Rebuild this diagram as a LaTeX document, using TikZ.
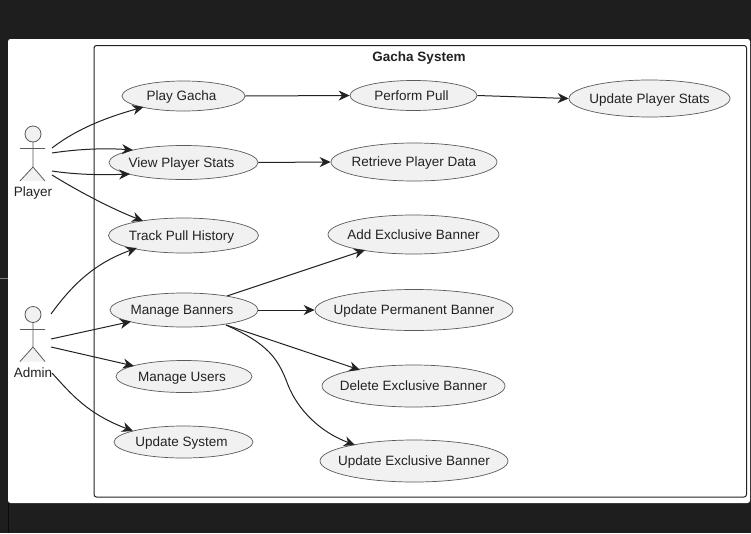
\documentclass[tikz,border=0pt]{standalone}
\usepackage{fontspec}
\setmainfont{Liberation Sans}
\usetikzlibrary{shapes.geometric,arrows.meta}
\definecolor{pagebg}{HTML}{1E1E1E}
\definecolor{usefill}{HTML}{F1F1F1}
\definecolor{useline}{HTML}{5A5A5A}
\definecolor{inkc}{HTML}{222222}
\newcommand{\lft}[1]{#1\kern4pt}
\tikzset{
  usecase/.style={ellipse,draw=useline,fill=usefill,line width=0.7pt,inner xsep=-25pt,inner ysep=-5pt,text height=12pt,text depth=3pt,text=inkc,font=\fontsize{13.5}{16}\selectfont},
  lbl/.style={text=inkc,inner sep=0pt,text height=12pt,text depth=3pt,font=\fontsize{13.5}{16}\selectfont},
  conn/.style={draw=inkc,line width=1pt,-{Stealth[length=11pt,width=10pt,inset=3.5pt]}},
  actorline/.style={draw=useline,line width=0.8pt,fill=usefill},
}
\begin{document}
\begin{tikzpicture}[x=1pt,y=-1pt]
\useasboundingbox (0,0) rectangle (751,533);
\fill[pagebg] (0,0) rectangle (751,533);
\draw[gray,line width=1pt] (0,278.5) -- (8,278.5);
\draw[black!60!pagebg,line width=0.6pt] (8.5,503) -- (8.5,533);
\fill[white,rounded corners=2.5pt] (8,39) rectangle (750,503);
\draw[inkc,line width=1pt,rounded corners=2.5pt] (94,45.5) rectangle (746.5,497);
\node[lbl,font=\fontsize{13.5}{16}\selectfont\bfseries] (title) at (419,56.5) {Gacha System};

% use cases
\node[usecase,minimum width=123pt,minimum height=30pt] (pg) at (183.5,96) {\lft{Play Gacha}};
\node[usecase,minimum width=127pt,minimum height=30pt] (pp) at (413.5,95.5) {\lft{Perform Pull}};
\node[usecase,minimum width=161pt,minimum height=37pt] (ups) at (649.5,98.5) {Update Player Stats};
\node[usecase,minimum width=149pt,minimum height=34pt] (vps) at (183.5,162.5) {\lft{View Player Stats}};
\node[usecase,minimum width=166pt,minimum height=38pt] (rpd) at (414,162) {Retrieve Player Data};
\node[usecase,minimum width=150pt,minimum height=35pt] (tph) at (183.5,235.5) {\lft{Track Pull History}};
\node[usecase,minimum width=171pt,minimum height=39pt] (aeb) at (413.5,234.5) {Add Exclusive Banner};
\node[usecase,minimum width=148pt,minimum height=34pt] (mb) at (184,310) {\lft{Manage Banners}};
\node[usecase,minimum width=198pt,minimum height=41pt] (upb) at (414,310) {Update Permanent Banner};
\node[usecase,minimum width=136pt,minimum height=32pt] (mu) at (184,376.5) {\lft{Manage Users}};
\node[usecase,minimum width=183pt,minimum height=42pt] (deb) at (413.5,386) {Delete Exclusive Banner};
\node[usecase,minimum width=139pt,minimum height=32pt] (us) at (183.5,442) {\lft{Update System}};
\node[usecase,minimum width=188pt,minimum height=42pt] (ueb) at (414,461) {Update Exclusive Banner};

% actors
\draw[actorline] (33,134) circle (8pt);
\draw[actorline] (33,142) -- (33,167) (20,148.5) -- (45,148.5) (20,181) -- (33,167) -- (45,181);
\node[lbl] (player) at (33,192) {Player};
\draw[actorline] (33,314.5) circle (8pt);
\draw[actorline] (33,322.5) -- (33,347) (20,329.5) -- (45,329.5) (20,361.5) -- (33,347) -- (45,361.5);
\node[lbl] (admin) at (33,372.5) {Admin};

\coordinate (p1) at (52,148);
\coordinate (p2) at (52,153);
\coordinate (p3) at (52,171);
\coordinate (p4) at (52,175);
\coordinate (a1) at (51,314);
\coordinate (a2) at (51,339);
\coordinate (a3) at (51,347);
\coordinate (a4) at (52,373);

% connectors
\draw[conn] (p1) .. controls (78,128) and (108,117) .. ([xshift=-40pt,yshift=-11pt]pg.center);
\draw[conn] (p2) .. controls (78,149) and (105,148) .. ([xshift=-50.5pt,yshift=12.5pt]vps.center);
\draw[conn] (p3) .. controls (78,175) and (105,175) .. ([xshift=-53.5pt,yshift=-11.5pt]vps.center);
\draw[conn] (p4) .. controls (78,191) and (110,208) .. ([xshift=-40.5pt,yshift=14.5pt]tph.center);
\draw[conn] (a1) .. controls (70,288) and (92,264) .. ([xshift=-46.5pt,yshift=-12.5pt]tph.center);
\draw[conn] (a2) -- ([xshift=-53pt,yshift=-11.5pt]mb.center);
\draw[conn] (a3) -- ([xshift=-50pt,yshift=10.5pt]mu.center);
\draw[conn] (a4) .. controls (72,395) and (88,414) .. ([xshift=-50.5pt,yshift=11pt]us.center);
\draw[conn] (pg.east) -- (pp.west);
\draw[conn] (pp.east) -- (ups.west);
\draw[conn] (vps.east) -- (rpd.west);
\draw[conn] ([xshift=43pt,yshift=14pt]mb.center) -- ([xshift=-48.5pt,yshift=-15.5pt]aeb.center);
\draw[conn] (mb.east) -- (upb.west);
\draw[conn] ([xshift=42pt,yshift=-15pt]mb.center) -- ([xshift=-53.5pt,yshift=16pt]deb.center);
\draw[conn] ([xshift=42pt,yshift=-15pt]mb.center) .. controls (268,344) and (278,358) .. (288,385) .. controls (298,410) and (320,432) .. ([xshift=-59pt,yshift=16pt]ueb.center);
\end{tikzpicture}
\end{document}
